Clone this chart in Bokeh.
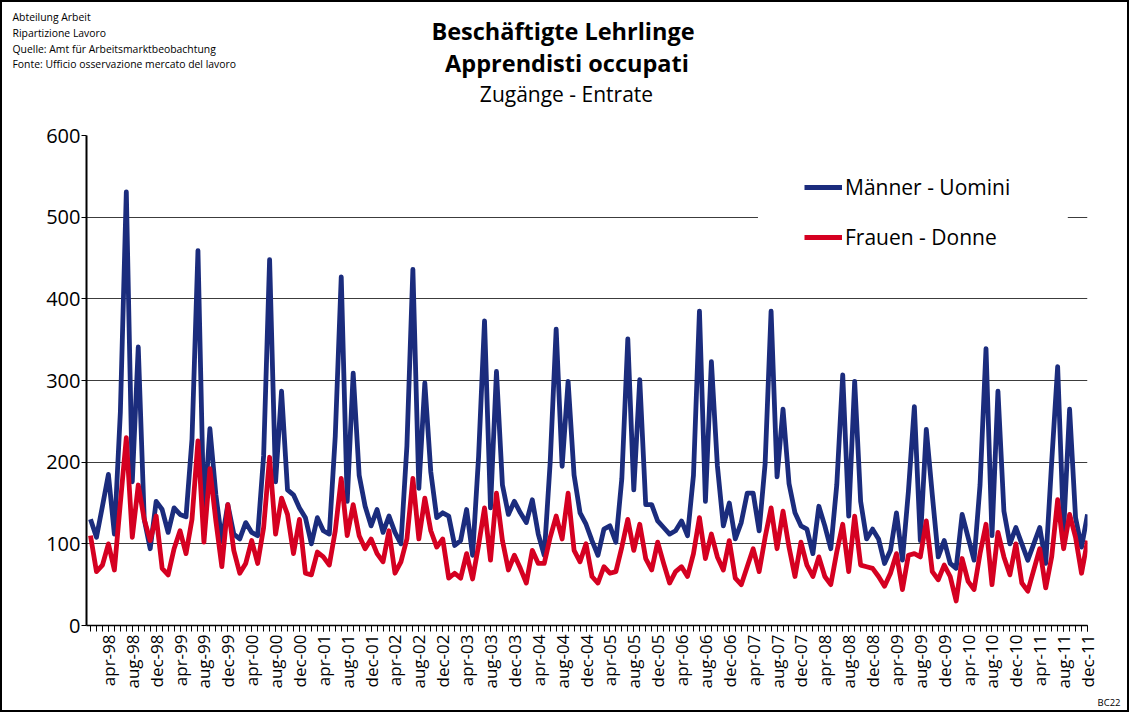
import math
from bokeh.plotting import figure
from bokeh.layouts import column, row
from bokeh.models import (ColumnDataSource, FixedTicker, Legend, LegendItem, Range1d,
                          Title, BoxAnnotation)
from bokeh.core.properties import value
from bokeh.embed import file_html
from bokeh.resources import INLINE

# Monthly values jan-98 .. dec-11
maenner = [
    130, 108, 146, 185, 112, 261, 531, 176, 341, 130, 94, 152,
    142, 114, 144, 136, 133, 228, 459, 130, 241, 160, 104, 148,
    112, 106, 126, 114, 110, 208, 448, 176, 287, 166, 160, 144,
    132, 100, 132, 116, 112, 232, 427, 152, 309, 184, 146, 122,
    142, 114, 134, 114, 100, 220, 436, 168, 297, 188, 132, 138,
    134, 98, 104, 142, 86, 206, 373, 144, 311, 172, 136, 152,
    138, 126, 154, 112, 86, 200, 363, 195, 299, 184, 138, 124,
    104, 86, 118, 122, 102, 180, 351, 166, 301, 148, 148, 128,
    120, 112, 116, 128, 110, 184, 385, 152, 323, 196, 122, 150,
    106, 126, 162, 162, 116, 198, 385, 182, 265, 174, 138, 122,
    118, 88, 146, 122, 94, 172, 307, 134, 299, 152, 106, 118,
    106, 76, 92, 138, 80, 164, 268, 104, 240, 160, 84, 104,
    76, 70, 136, 108, 80, 172, 339, 110, 287, 140, 100, 120,
    100, 80, 100, 120, 76, 200, 317, 116, 265, 132, 96, 136,
]
frauen = [
    110, 66, 74, 100, 68, 150, 230, 108, 172, 130, 104, 134,
    70, 62, 94, 116, 88, 130, 226, 102, 192, 128, 72, 148,
    92, 64, 76, 104, 76, 120, 206, 112, 156, 136, 88, 130,
    64, 62, 90, 84, 74, 116, 180, 110, 148, 110, 94, 106,
    88, 78, 116, 64, 78, 106, 180, 106, 156, 116, 96, 106,
    58, 64, 58, 88, 57, 98, 144, 80, 162, 104, 68, 86,
    70, 52, 92, 76, 76, 108, 134, 106, 162, 92, 78, 100,
    60, 52, 72, 64, 66, 96, 130, 92, 124, 82, 68, 102,
    76, 52, 66, 72, 60, 88, 132, 82, 112, 84, 68, 104,
    58, 50, 72, 94, 66, 108, 144, 94, 140, 96, 60, 102,
    74, 60, 84, 60, 50, 90, 124, 66, 134, 74, 72, 70,
    60, 48, 64, 88, 44, 86, 88, 84, 128, 66, 56, 74,
    60, 30, 82, 54, 44, 88, 124, 50, 114, 84, 62, 100,
    52, 42, 68, 94, 46, 84, 154, 94, 136, 108, 64, 104,
]
tick_labels = [
    "apr-98", "aug-98", "dec-98", "apr-99", "aug-99", "dec-99",
    "apr-00", "aug-00", "dec-00", "apr-01", "aug-01", "dec-01",
    "apr-02", "aug-02", "dec-02", "apr-03", "aug-03", "dec-03",
    "apr-04", "aug-04", "dec-04", "apr-05", "aug-05", "dec-05",
    "apr-06", "aug-06", "dec-06", "apr-07", "aug-07", "dec-07",
    "apr-08", "aug-08", "dec-08", "apr-09", "aug-09", "dec-09",
    "apr-10", "aug-10", "dec-10", "apr-11", "aug-11", "dec-11",
]
y_ticks = [0, 100, 200, 300, 400, 500, 600]
header_lines = ["Abteilung Arbeit", "Ripartizione Lavoro",
                "Quelle: Amt für Arbeitsmarktbeobachtung",
                "Fonte: Ufficio osservazione mercato del lavoro"]
title_lines = ["Beschäftigte Lehrlinge", "Apprendisti occupati"]
subtitle = "Zugänge - Entrate"

BLUE = "#1b2c7d"
RED = "#d50021"
FONT = "Open Sans"
W = 1125
HEAD_H = 120

# ---------- heading strip (frame covers whole strip, y measured from top) ----------
head = figure(width=W, height=HEAD_H, output_backend="svg", toolbar_location=None,
              x_range=Range1d(0, W), y_range=Range1d(HEAD_H, 0),
              x_axis_type=None, y_axis_type=None, title=None,
              min_border_left=0, min_border_right=0, min_border_top=0, min_border_bottom=0)
head.outline_line_color = None
head.grid.visible = False
head.background_fill_color = "white"
head.border_fill_color = "white"

hsrc = ColumnDataSource(dict(x=[10] * 4, y=[14.7, 30.3, 46.0, 61.6], t=header_lines))
head.text(x="x", y="y", text="t", source=hsrc, text_font=value(FONT),
          text_font_size=value("10.4px"), text_align=value("left"),
          text_baseline=value("middle"), text_color="black")
tsrc = ColumnDataSource(dict(x=[560.5, 564.5], y=[28.0, 60.2], t=title_lines))
head.text(x="x", y="y", text="t", source=tsrc, text_font=value(FONT),
          text_font_size=value("23.5px"), text_font_style=value("bold"),
          text_align=value("center"), text_baseline=value("middle"), text_color="black")
head.text(x=[564], y=[91.8], text=[subtitle], text_font=value(FONT),
          text_font_size=value("21px"), text_align=value("center"),
          text_baseline=value("middle"), text_color="black")

# ---------- main chart ----------
months = list(range(len(maenner)))
tick_pos = [3 + 4 * k for k in range(len(tick_labels))]

p = figure(width=W, height=708 - HEAD_H, output_backend="svg", toolbar_location=None,
           x_range=Range1d(-0.67, len(maenner) - 1), y_range=Range1d(0, 600),
           min_border_left=84, min_border_right=40, min_border_top=133 - HEAD_H,
           min_border_bottom=85, title=None)
p.outline_line_color = None
p.background_fill_color = "white"
p.border_fill_color = "white"

src = ColumnDataSource(dict(m=months, maenner=maenner, frauen=frauen))
r1 = p.line("m", "maenner", source=src, line_color=BLUE, line_width=4.8, line_join="round")
r2 = p.line("m", "frauen", source=src, line_color=RED, line_width=4.8, line_join="round")

# grid
p.xgrid.visible = False
p.ygrid.ticker = FixedTicker(ticks=y_ticks)
p.ygrid.grid_line_color = "#3c3c3c"
p.ygrid.grid_line_width = 1.2

# y axis
p.yaxis.ticker = FixedTicker(ticks=y_ticks)
p.yaxis.axis_line_color = "black"
p.yaxis.axis_line_width = 2
p.yaxis.major_tick_out = 5
p.yaxis.major_tick_in = 0
p.yaxis.minor_tick_out = 0
p.yaxis.minor_tick_in = 0
p.yaxis.major_tick_line_color = "black"
p.yaxis.major_label_standoff = 1
p.yaxis.major_label_text_font = FONT
p.yaxis.major_label_text_font_size = "20px"
p.yaxis.major_label_text_color = "black"

# x axis
p.xaxis.ticker = FixedTicker(ticks=tick_pos, minor_ticks=months)
p.xaxis.major_label_overrides = {pos: lab for pos, lab in zip(tick_pos, tick_labels)}
p.xaxis.major_label_orientation = math.pi / 2
p.xaxis.axis_line_color = "black"
p.xaxis.axis_line_width = 1.5
p.xaxis.major_tick_out = 6
p.xaxis.major_tick_in = 0
p.xaxis.minor_tick_out = 6
p.xaxis.minor_tick_in = 0
p.xaxis.major_tick_line_color = "black"
p.xaxis.minor_tick_line_color = "black"
p.xaxis.major_label_standoff = 3
p.xaxis.major_label_text_font = FONT
p.xaxis.major_label_text_font_size = "17px"
p.xaxis.major_label_text_color = "black"

# white area behind the legend that interrupts the 500 gridline
p.add_layout(BoxAnnotation(left=111.8, right=163.7, bottom=470, top=530,
                           fill_color="white", fill_alpha=1.0, line_color=None))

legend = Legend(items=[LegendItem(label="Männer - Uomini", renderers=[r1]),
                       LegendItem(label="Frauen - Donne", renderers=[r2])],
                location=(718, 374), padding=37, spacing=22, margin=0,
                glyph_width=38, glyph_height=24, label_height=24, label_standoff=3,
                label_text_font=FONT, label_text_font_size="21px",
                label_text_color="black",
                border_line_color=None, background_fill_color="white",
                background_fill_alpha=1.0)
p.add_layout(legend)

p.add_layout(Title(text="BC22", align="right", offset=-33, standoff=4,
                   text_font=FONT, text_font_size="9.5px", text_font_style="normal",
                   text_color="black"), "below")

layout = column(row(head), p, spacing=0, styles={"border": "2px solid black"})

open("out.html", "w").write(file_html(layout, INLINE))
